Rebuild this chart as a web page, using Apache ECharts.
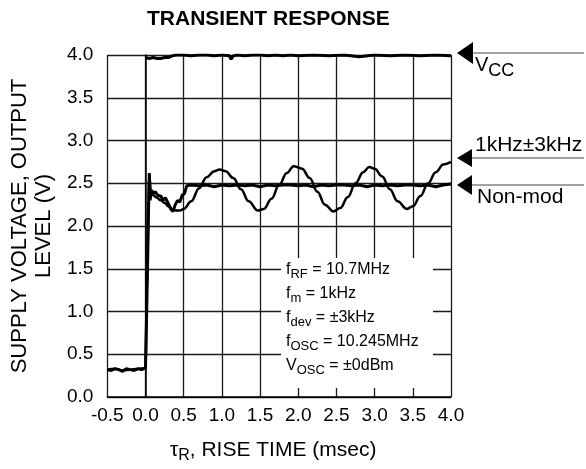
<!DOCTYPE html>
<html>
<head>
<meta charset="utf-8">
<script src="https://cdn.jsdelivr.net/npm/echarts@6/dist/echarts.min.js"></script>
<style>
  html, body { margin: 0; padding: 0; background: #fff; }
  #chart { width: 586px; height: 469px; }
</style>
</head>
<body>
<div id="chart"></div>
<script>
// values
const xTicks = [-0.5, 0.0, 0.5, 1.0, 1.5, 2.0, 2.5, 3.0, 3.5, 4.0];
const yTicks = [0.0, 0.5, 1.0, 1.5, 2.0, 2.5, 3.0, 3.5, 4.0];

const vccTime = [0.0, 0.05, 0.1, 0.15, 0.2, 0.25, 0.3, 0.35, 0.4, 0.5, 0.6, 0.7, 0.8, 0.9, 1.0, 1.1, 1.12, 1.15, 1.2, 1.3, 1.4, 1.5, 1.6, 1.7, 1.8, 1.9, 2.0, 2.2, 2.4, 2.6, 2.8, 3.0, 3.2, 3.4, 3.6, 3.8, 4.0];
const vccValue = [3.97, 3.96, 3.97, 3.96, 3.96, 3.97, 3.97, 3.99, 4.0, 4.0, 3.99, 4.0, 4.0, 3.99, 4.0, 3.99, 3.95, 3.99, 4.0, 3.99, 4.0, 4.0, 3.99, 4.0, 3.99, 4.0, 3.99, 4.0, 3.99, 4.0, 3.98, 4.0, 3.99, 4.0, 3.99, 4.0, 3.99];

const modTime = [-0.5, -0.4, -0.3, -0.2, -0.1, 0.0, 0.02, 0.04, 0.05, 0.07, 0.1, 0.15, 0.2, 0.25, 0.3, 0.35, 0.4, 0.45, 0.5, 0.6, 0.7, 0.8, 0.9, 0.97, 1.05, 1.15, 1.25, 1.35, 1.47, 1.55, 1.65, 1.75, 1.85, 1.94, 2.05, 2.15, 2.25, 2.35, 2.46, 2.55, 2.65, 2.75, 2.85, 2.93, 3.0, 3.1, 3.2, 3.3, 3.42, 3.5, 3.6, 3.7, 3.8, 3.9, 4.0];
const modValue = [0.32, 0.33, 0.31, 0.32, 0.33, 0.34, 1.3, 2.3, 2.6, 2.4, 2.36, 2.33, 2.3, 2.27, 2.23, 2.2, 2.18, 2.18, 2.2, 2.29, 2.44, 2.57, 2.64, 2.66, 2.64, 2.56, 2.43, 2.29, 2.18, 2.2, 2.32, 2.48, 2.62, 2.7, 2.67, 2.56, 2.4, 2.25, 2.17, 2.21, 2.34, 2.5, 2.63, 2.69, 2.67, 2.58, 2.43, 2.29, 2.2, 2.23, 2.35, 2.5, 2.63, 2.72, 2.75];

const nonModTime = [-0.5, -0.45, -0.4, -0.35, -0.3, -0.25, -0.2, -0.15, -0.1, -0.05, 0.0, 0.02, 0.04, 0.05, 0.06, 0.08, 0.1, 0.13, 0.16, 0.2, 0.23, 0.26, 0.3, 0.33, 0.36, 0.39, 0.42, 0.45, 0.48, 0.51, 0.54, 0.6, 0.7, 0.8, 0.9, 1.0, 1.1, 1.2, 1.3, 1.4, 1.5, 1.6, 1.7, 1.8, 1.9, 2.0, 2.1, 2.2, 2.3, 2.4, 2.5, 2.6, 2.7, 2.8, 2.9, 3.0, 3.1, 3.2, 3.3, 3.4, 3.5, 3.6, 3.7, 3.8, 3.9, 4.0];
const nonModValue = [0.32, 0.31, 0.33, 0.32, 0.3, 0.33, 0.32, 0.31, 0.33, 0.32, 0.34, 1.2, 2.2, 2.62, 2.3, 2.42, 2.38, 2.4, 2.36, 2.35, 2.3, 2.33, 2.26, 2.2, 2.17, 2.25, 2.3, 2.28, 2.36, 2.38, 2.47, 2.48, 2.47, 2.48, 2.46, 2.48, 2.47, 2.48, 2.47, 2.48, 2.46, 2.48, 2.47, 2.48, 2.48, 2.47, 2.48, 2.46, 2.48, 2.47, 2.48, 2.48, 2.47, 2.48, 2.46, 2.48, 2.47, 2.48, 2.47, 2.48, 2.48, 2.47, 2.48, 2.46, 2.48, 2.49];

const conditions = [
  ['f', 'RF', ' = 10.7MHz'],
  ['f', 'm', ' = 1kHz'],
  ['f', 'dev', ' = \u00b13kHz'],
  ['f', 'OSC', ' = 10.245MHz'],
  ['V', 'OSC', ' = \u00b10dBm']
];

const FONT = '"Liberation Sans", Arial, sans-serif';

function pairs(xs, ys) {
  return xs.map((x, i) => [x, ys[i]]);
}

const chart = echarts.init(document.getElementById('chart'));

const subRich = {
  t: { fontSize: 16, fontFamily: FONT, color: '#000', lineHeight: 24, verticalAlign: 'top' },
  s: { fontSize: 13, fontFamily: FONT, color: '#000', lineHeight: 24, verticalAlign: 'top', padding: [6, 0, 0, 0] }
};

const condText = conditions.map(c => `{t|${c[0]}}{s|${c[1]}}{t|${c[2]}}`).join('\n');

const options = {
  animation: false,
  title: {
    text: 'TRANSIENT RESPONSE',
    left: 142,
    top: 4,
    textStyle: { fontSize: 21, fontWeight: 'bold', fontFamily: FONT, color: '#000' }
  },
  grid: { left: 105, right: 135, top: 55, bottom: 68 },
  xAxis: {
    type: 'value',
    min: xTicks[0],
    max: xTicks[xTicks.length - 1],
    interval: 0.5,
    name: '{t|\u03c4}{s|R}{t|, RISE TIME (msec)}',
    nameLocation: 'middle',
    nameGap: 43,
    nameTextStyle: {
      padding: [0, 12, 0, 0],
      rich: {
        t: { fontSize: 21, fontFamily: FONT, color: '#000', lineHeight: 22, verticalAlign: 'top' },
        s: { fontSize: 16, fontFamily: FONT, color: '#000', lineHeight: 22, verticalAlign: 'top', padding: [8, 0, 0, 0] }
      }
    },
    axisLine: { lineStyle: { color: '#000', width: 1.5 } },
    axisTick: { show: false },
    axisLabel: { fontSize: 19, fontFamily: FONT, color: '#000', margin: 9, formatter: v => v.toFixed(1) },
    splitLine: { lineStyle: { color: '#1a1a1a', width: 1.3 } }
  },
  yAxis: {
    type: 'value',
    min: yTicks[0],
    max: yTicks[yTicks.length - 1],
    interval: 0.5,
    name: 'SUPPLY VOLTAGE, OUTPUT\nLEVEL (V)',
    nameLocation: 'middle',
    nameRotate: 90,
    nameGap: 50,
    nameTextStyle: { fontSize: 22, fontFamily: FONT, color: '#000', lineHeight: 24 },
    axisLine: { lineStyle: { color: '#000', width: 1.5 } },
    axisTick: { show: false },
    axisLabel: { fontSize: 19, fontFamily: FONT, color: '#000', margin: 14, formatter: v => v.toFixed(1) },
    splitLine: { lineStyle: { color: '#1a1a1a', width: 1.3 } }
  },
  series: [
    {
      name: 'VCC',
      type: 'line',
      data: pairs(vccTime, vccValue),
      symbol: 'none',
      lineStyle: { color: '#000', width: 3 },
      z: 3
    },
    {
      name: '1kHz\u00b13kHz',
      type: 'line',
      data: pairs(modTime, modValue),
      symbol: 'none',
      smooth: 0.4,
      smoothMonotone: 'x',
      lineStyle: { color: '#000', width: 2.5 },
      z: 3
    },
    {
      name: 'Non-mod',
      type: 'line',
      data: pairs(nonModTime, nonModValue),
      symbol: 'none',
      lineStyle: { color: '#000', width: 3 },
      z: 3
    }
  ],
  graphic: [
    // white panel with test conditions
    { type: 'rect', z: 100, shape: { x: 281, y: 258, width: 152, height: 130 }, style: { fill: '#fff' } },
    { type: 'text', z: 101, left: 286, top: 262, style: { text: condText, rich: subRich } },
    // right-hand markers
    { type: 'line', z: 100, shape: { x1: 458, y1: 53, x2: 584, y2: 53 }, style: { stroke: '#444', lineWidth: 1 } },
    { type: 'polygon', z: 101, shape: { points: [[457, 53], [473, 42], [473, 64]] }, style: { fill: '#000' } },
    { type: 'line', z: 100, shape: { x1: 458, y1: 158, x2: 584, y2: 158 }, style: { stroke: '#444', lineWidth: 1 } },
    { type: 'polygon', z: 101, shape: { points: [[457, 158], [472, 149], [472, 167]] }, style: { fill: '#000' } },
    { type: 'line', z: 100, shape: { x1: 458, y1: 185, x2: 584, y2: 185 }, style: { stroke: '#444', lineWidth: 1 } },
    { type: 'polygon', z: 101, shape: { points: [[457, 185], [472, 175], [472, 195]] }, style: { fill: '#000' } },
    {
      type: 'text', z: 101, left: 475, top: 55,
      style: {
        text: '{t|V}{s|CC}',
        rich: {
          t: { fontSize: 20, fontFamily: FONT, color: '#000', lineHeight: 22, verticalAlign: 'top' },
          s: { fontSize: 18, fontFamily: FONT, color: '#000', lineHeight: 22, verticalAlign: 'top', padding: [7, 0, 0, 0] }
        }
      }
    },
    { type: 'text', z: 101, left: 475, top: 135, style: { text: '1kHz\u00b13kHz', fontSize: 21, fontFamily: FONT, fill: '#000' } },
    { type: 'text', z: 101, left: 477, top: 187, style: { text: 'Non-mod', fontSize: 21, fontFamily: FONT, fill: '#000' } }
  ]
};

chart.setOption(options);
</script>
</body>
</html>
